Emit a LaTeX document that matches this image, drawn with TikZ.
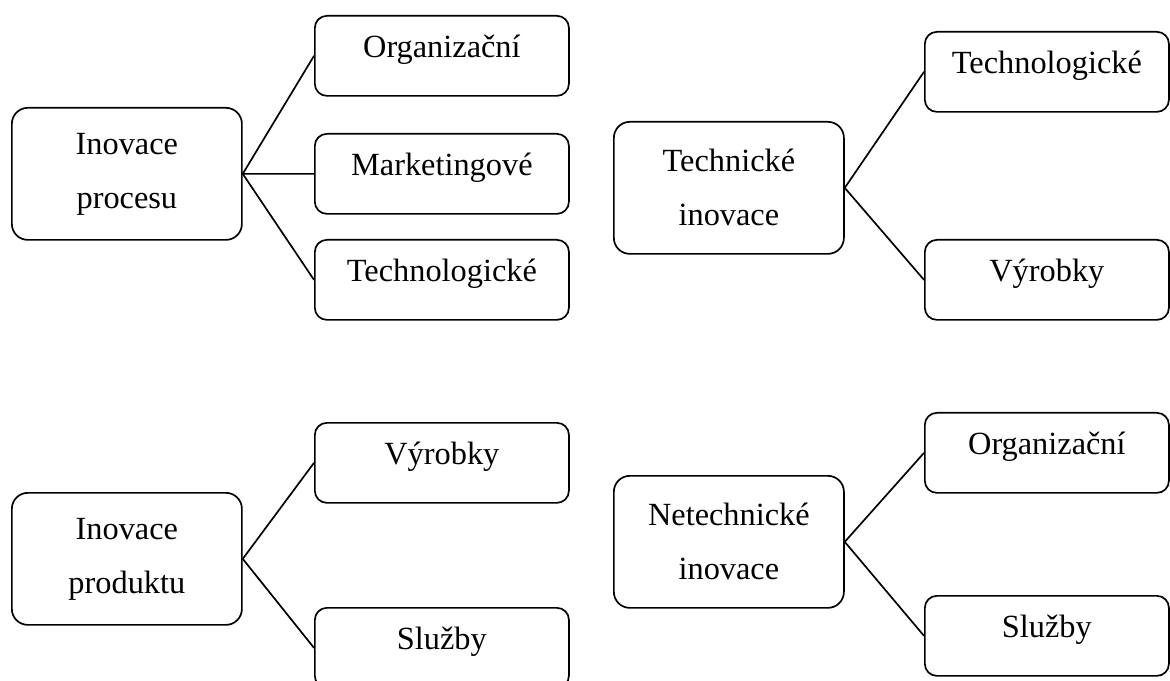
\documentclass[tikz,border=0pt]{standalone}
\usepackage{fontspec}
\setmainfont{Liberation Serif}
\begin{document}
\begin{tikzpicture}[x=0.025cm,y=-0.025cm,
  hlavni/.style={draw,rounded corners=0.4cm,line width=1.2pt,minimum width=5.75cm,minimum height=3.3cm,align=center,inner sep=0pt,anchor=north west,font=\fontsize{23}{38.4}\selectfont},
  druh/.style={draw,rounded corners=0.3cm,line width=1.2pt,minimum width=6.35cm,inner sep=0pt,text height=1.05cm,text depth=0.95cm,anchor=north west,font=\fontsize{23}{27}\selectfont},
  spoj/.style={line width=1.2pt}]
  \useasboundingbox (0,0) rectangle (1170,681);
  % inovace procesu
  \node[hlavni] (procesu) at (11,107) {Inovace\\procesu};
  \node[druh] (proc_org) at (314,15) {Organizační};
  \node[druh] (proc_mark) at (314,133) {Marketingové};
  \node[druh] (proc_tech) at (314,239) {Technologické};
  % technicke inovace
  \node[hlavni] (technicke) at (613,121) {Technické\\inovace};
  \node[druh, minimum width=6.1cm] (tech_tech) at (924,31) {Technologické};
  \node[druh, minimum width=6.1cm] (tech_vyr) at (924,239) {Výrobky};
  % inovace produktu
  \node[hlavni] (produktu) at (11,492) {Inovace\\produktu};
  \node[druh] (prod_vyr) at (314,422) {Výrobky};
  \node[druh] (prod_sluz) at (314,607) {Služby};
  % netechnicke inovace
  \node[hlavni] (netechnicke) at (613,475) {Netechnické\\inovace};
  \node[druh, minimum width=6.1cm] (net_org) at (924,412) {Organizační};
  \node[druh, minimum width=6.1cm] (net_sluz) at (924,595) {Služby};
  \draw[spoj] (procesu.east) -- (proc_org.west);
  \draw[spoj] (procesu.east) -- (proc_mark.west);
  \draw[spoj] (procesu.east) -- (proc_tech.west);
  \draw[spoj] (technicke.east) -- (tech_tech.west);
  \draw[spoj] (technicke.east) -- (tech_vyr.west);
  \draw[spoj] (produktu.east) -- (prod_vyr.west);
  \draw[spoj] (produktu.east) -- (prod_sluz.west);
  \draw[spoj] (netechnicke.east) -- (net_org.west);
  \draw[spoj] (netechnicke.east) -- (net_sluz.west);
\end{tikzpicture}
\end{document}
